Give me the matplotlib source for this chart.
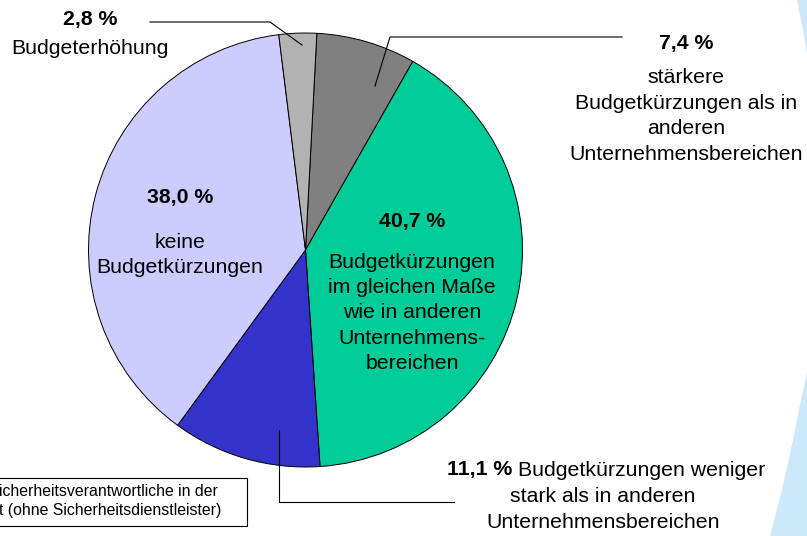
import matplotlib
matplotlib.use("Agg")
import matplotlib.pyplot as plt
from matplotlib.patches import Polygon, Rectangle

plt.rcParams['font.family'] = ['Liberation Sans', 'DejaVu Sans']

# ---- data ----
shares = [7.4, 40.7, 11.1, 38.0, 2.8]
share_labels = ["7,4 %", "40,7 %", "11,1 %", "38,0 %", "2,8 %"]
categories = [
    "stärkere\nBudgetkürzungen als in\nanderen\nUnternehmensbereichen",
    "Budgetkürzungen\nim gleichen Maße\nwie in anderen\nUnternehmens-\nbereichen",
    "Budgetkürzungen weniger",
    "keine\nBudgetkürzungen",
    "Budgeterhöhung",
]
colors = ["#808080", "#00CC99", "#3333CC", "#CCCCFF", "#B2B2B2"]
footnote = ["icherheitsverantwortliche in der", "t (ohne Sicherheitsdienstleister)"]

W, H = 807, 536
fig = plt.figure(figsize=(W / 100, H / 100), dpi=100)

# background overlay axes in pixel coordinates
bg = fig.add_axes([0, 0, 1, 1])
bg.set_xlim(0, W)
bg.set_ylim(H, 0)
bg.axis('off')

# decorative light-blue shapes at right edge
lb = '#CCE8FA'
bg.add_patch(Polygon([(797, 0), (807, 0), (807, 55), (803, 30)], closed=True,
                     facecolor=lb, edgecolor='none', zorder=0))
bg.add_patch(Polygon([(807, 372), (807, 536), (770, 536), (782, 490),
                      (793, 440), (801, 400)], closed=True,
                     facecolor=lb, edgecolor='none', zorder=0))

# pie axes
cx, cy, r = 305.5, 250, 217
pax = fig.add_axes([(cx - r) / W, (H - cy - r) / H, 2 * r / W, 2 * r / H])
pax.pie(shares, colors=colors, startangle=87, counterclock=False,
        wedgeprops=dict(edgecolor='black', linewidth=0.7))
pax.set_xlim(-1, 1)
pax.set_ylim(-1, 1)
pax.set_aspect('auto')
pax.axis('off')

fs = 15.3
ls = 1.43
# overlay axes for text & leaders
tx = fig.add_axes([0, 0, 1, 1])
tx.set_xlim(0, W)
tx.set_ylim(H, 0)
tx.axis('off')
tx.patch.set_alpha(0)

# 2.8 %
tx.text(90, 20, share_labels[4], ha='center', va='center', fontsize=fs, fontweight='bold')
tx.text(90, 48, categories[4], ha='center', va='center', fontsize=fs)
tx.plot([150, 270, 302], [22, 22, 45], color='black', lw=0.8)

# 7.4 %
tx.text(686, 43, share_labels[0], ha='center', va='center', fontsize=fs, fontweight='bold')
tx.text(686, 116, categories[0], ha='center', va='center', fontsize=fs, linespacing=ls)
tx.plot([622, 390, 375], [37, 37, 86], color='black', lw=0.8)

# 38.0 %
tx.text(180, 197, share_labels[3], ha='center', va='center', fontsize=fs, fontweight='bold')
tx.text(180, 255, categories[3], ha='center', va='center', fontsize=fs, linespacing=ls)

# 40.7 %
tx.text(412, 222, share_labels[1], ha='center', va='center', fontsize=fs, fontweight='bold')
tx.text(412, 313, categories[1], ha='center', va='center', fontsize=fs, linespacing=ls)

# 11.1 %
t1 = tx.text(606, 470, share_labels[2] + " ", ha='right', va='center', fontsize=fs,
             fontweight='bold')
fig.canvas.draw()
bb = t1.get_window_extent()
tmp = tx.text(0, 0, categories[2], fontsize=fs)
bb2 = tmp.get_window_extent()
tmp.remove()
total = bb.width + bb2.width
start = 606 - total / 2
t1.set_position((start + bb.width, 470))
tx.text(start + bb.width, 470, categories[2], ha='left', va='center', fontsize=fs)
tx.text(603, 497, "stark als in anderen", ha='center', va='center', fontsize=fs)
tx.text(603, 523, "Unternehmensbereichen", ha='center', va='center', fontsize=fs)
tx.plot([279, 279, 454], [430, 502, 502], color='black', lw=0.8)

# footnote box
tx.add_patch(Rectangle((-5, 478), 252, 48, facecolor='white', edgecolor='black', lw=0.8))
tx.text(-1, 492, footnote[0], ha='left', va='center', fontsize=11.4)
tx.text(-1, 510, footnote[1], ha='left', va='center', fontsize=11.4)

fig.savefig("out.png", dpi=100)
